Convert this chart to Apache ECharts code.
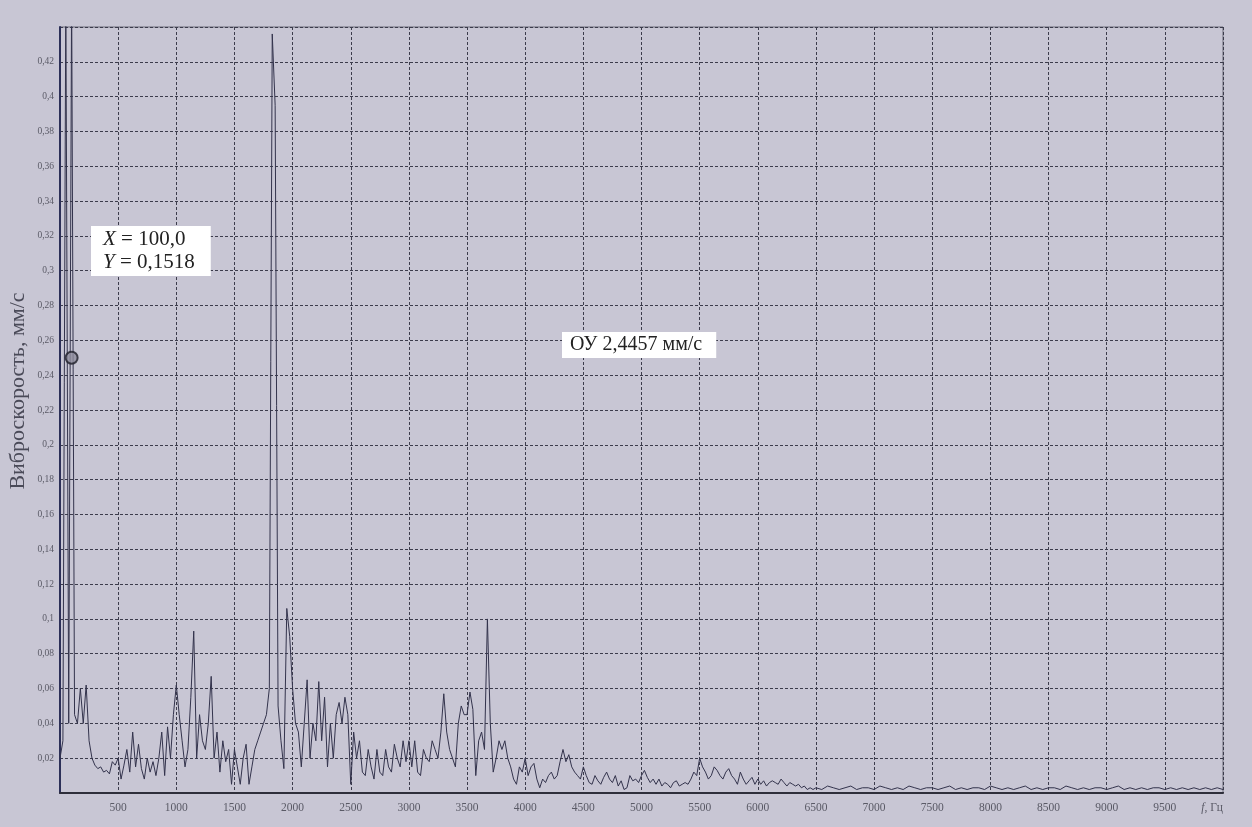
<!DOCTYPE html>
<html>
<head>
<meta charset="utf-8">
<script src="https://cdn.jsdelivr.net/npm/echarts@6/dist/echarts.min.js"></script>
<style>
html,body{margin:0;padding:0;background:#c8c6d4;}
#chart{width:1252px;height:827px;}
</style>
</head>
<body>
<div id="chart"></div>
<script>
// Spectrum values, 0 … 6475 Hz, step 25 Hz
const LOW_START = 0;
const LOW_STEP = 25;
const lowVals = [
  // 0 - 475
  0.020,0.030,0.460,0.040,0.460,0.045,0.040,0.060,0.040,0.062,0.030,0.020,0.016,0.014,0.015,0.012,0.013,0.011,0.018,0.016,
  // 500 - 975
  0.020,0.008,0.016,0.025,0.012,0.035,0.015,0.028,0.014,0.008,0.020,0.012,0.018,0.010,0.020,0.035,0.010,0.038,0.020,0.045,
  // 1000 - 1475
  0.062,0.045,0.030,0.015,0.025,0.055,0.093,0.020,0.045,0.030,0.025,0.040,0.067,0.020,0.035,0.012,0.030,0.018,0.025,0.005,
  // 1500 - 1975
  0.025,0.015,0.005,0.020,0.028,0.005,0.015,0.025,0.030,0.035,0.040,0.045,0.060,0.436,0.395,0.050,0.030,0.014,0.106,0.090,
  // 2000 - 2475
  0.060,0.040,0.035,0.015,0.040,0.065,0.020,0.040,0.030,0.064,0.030,0.055,0.015,0.040,0.020,0.045,0.052,0.040,0.055,0.045,
  // 2500 - 2975
  0.005,0.035,0.020,0.030,0.012,0.010,0.025,0.015,0.008,0.025,0.012,0.010,0.025,0.015,0.012,0.028,0.020,0.015,0.030,0.018,
  // 3000 - 3475
  0.030,0.015,0.030,0.012,0.010,0.025,0.020,0.018,0.030,0.025,0.020,0.035,0.057,0.035,0.025,0.020,0.015,0.040,0.050,0.045,
  // 3500 - 3975
  0.045,0.058,0.048,0.010,0.030,0.035,0.025,0.100,0.040,0.012,0.020,0.030,0.025,0.030,0.020,0.015,0.008,0.005,0.015,0.012,
  // 4000 - 4475
  0.020,0.010,0.015,0.017,0.008,0.003,0.008,0.006,0.010,0.012,0.008,0.010,0.018,0.025,0.018,0.022,0.015,0.012,0.010,0.008,
  // 4500 - 4975
  0.015,0.010,0.006,0.005,0.010,0.007,0.005,0.009,0.012,0.008,0.006,0.010,0.004,0.007,0.002,0.003,0.010,0.007,0.008,0.006,
  // 5000 - 5475
  0.010,0.013,0.009,0.006,0.008,0.005,0.008,0.004,0.006,0.005,0.003,0.006,0.007,0.004,0.005,0.006,0.005,0.008,0.012,0.010,
  // 5500 - 5975
  0.020,0.015,0.012,0.008,0.010,0.015,0.013,0.010,0.008,0.012,0.014,0.010,0.008,0.005,0.012,0.008,0.005,0.007,0.009,0.005,
  // 6000 - 6475
  0.008,0.005,0.007,0.004,0.006,0.007,0.006,0.005,0.008,0.006,0.004,0.006,0.005,0.004,0.005,0.003,0.004,0.002,0.003,0.002
];
// Tail, 6500 … 10000 Hz, step 50 Hz
const TAIL_START = 6500;
const TAIL_STEP = 50;
const tailVals = [
  0.003,0.002,0.004,0.003,0.002,0.003,0.004,0.002,0.003,0.003,
  0.002,0.004,0.003,0.002,0.003,0.002,0.004,0.003,0.002,0.003,
  0.003,0.002,0.003,0.004,0.002,0.003,0.002,0.003,0.003,0.002,
  0.004,0.003,0.002,0.003,0.002,0.003,0.004,0.002,0.003,0.002,
  0.003,0.003,0.002,0.004,0.003,0.002,0.003,0.002,0.003,0.003,
  0.002,0.003,0.004,0.002,0.003,0.002,0.003,0.002,0.003,0.003,
  0.002,0.003,0.002,0.003,0.002,0.003,0.002,0.003,0.002,0.003,0.002
];
// Cursor point
const cursorPoint = [100, 0.25];
const cursorText = ['X', ' = 100,0', 'Y', ' = 0,1518'];
const totalText = 'ОУ 2,4457 мм/с';
const yAxisTitle = 'Виброскорость, мм/с';
const xUnitLabel = ['f', ', Гц'];

const data = [];
lowVals.forEach((v, i) => data.push([LOW_START + i * LOW_STEP, v]));
tailVals.forEach((v, i) => data.push([TAIL_START + i * TAIL_STEP, v]));

const serif = '"Liberation Serif", "DejaVu Serif", serif';
const chart = echarts.init(document.getElementById('chart'));
chart.setOption({
  backgroundColor: '#c8c6d4',
  animation: false,
  grid: {left: 60, right: 29, top: 27, bottom: 34, show: true, borderColor: '#6a6a78', borderWidth: 1, backgroundColor: 'transparent'},
  xAxis: {
    type: 'value', min: 0, max: 10000, interval: 500,
    axisLine: {show: true, onZero: false, lineStyle: {color: '#2e2e3a', width: 2}},
    axisTick: {show: false},
    axisLabel: {
      color: '#5a5a66', fontFamily: serif, fontSize: 11.5, margin: 9,
      alignMaxLabel: 'right',
      formatter: v => v === 0 ? '' : (v === 10000 ? '{i|' + xUnitLabel[0] + '}' + xUnitLabel[1] : String(v)),
      rich: {i: {fontStyle: 'italic', fontFamily: serif, fontSize: 11.5, color: '#5a5a66'}}
    },
    splitLine: {show: true, lineStyle: {color: '#3c3c4c', type: [3, 2], width: 1}}
  },
  yAxis: {
    type: 'value', min: 0, max: 0.44, interval: 0.02,
    axisLine: {show: true, onZero: false, lineStyle: {color: '#2c2f58', width: 2}},
    axisTick: {show: false},
    axisLabel: {
      color: '#5a5a66', fontFamily: serif, fontSize: 9.5, margin: 6,
      formatter: v => (v <= 0 || v > 0.43) ? '' : String(+v.toFixed(2)).replace('.', ',')
    },
    splitLine: {show: true, lineStyle: {color: '#3c3c4c', type: [3, 2], width: 1}}
  },
  series: [
    {
      type: 'line', data: data, showSymbol: false, symbol: 'none', clip: true,
      lineStyle: {color: '#33334c', width: 1}
    },
    {
      type: 'scatter', data: [cursorPoint], symbol: 'circle', symbolSize: 12,
      itemStyle: {color: '#8e8c9c', borderColor: '#1e1e28', borderWidth: 2}, z: 5
    }
  ],
  graphic: [
    {
      type: 'text', left: 91, top: 226, z: 10,
      style: {
        text: '{i|' + cursorText[0] + '}' + cursorText[1] + '\n{i|' + cursorText[2] + '}' + cursorText[3],
        font: '21px ' + serif, fill: '#222', backgroundColor: '#ffffff',
        padding: [2, 16, 2, 12], lineHeight: 23,
        rich: {i: {fontStyle: 'italic', fontFamily: serif, fontSize: 21, fill: '#222'}}
      }
    },
    {
      type: 'text', left: 562, top: 332, z: 10,
      style: {
        text: totalText, font: '20px ' + serif, fill: '#222', backgroundColor: '#ffffff',
        padding: [3, 14, 3, 8]
      }
    },
    {
      type: 'text', x: 18, y: 391, rotation: Math.PI / 2, z: 10,
      style: {
        text: yAxisTitle, font: '22px ' + serif, fill: '#4a4a58',
        align: 'center', verticalAlign: 'middle'
      }
    }
  ]
});
</script>
</body>
</html>
